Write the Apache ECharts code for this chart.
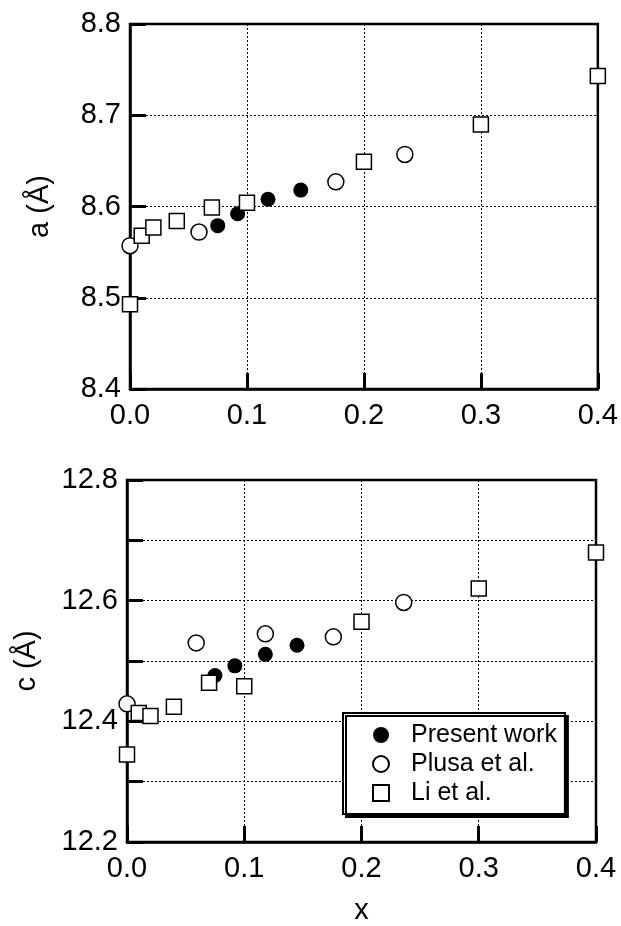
<!DOCTYPE html>
<html>
<head>
<meta charset="utf-8">
<script src="https://cdn.jsdelivr.net/npm/echarts@6/dist/echarts.min.js"></script>
<style>
  html, body { margin: 0; padding: 0; background: #fff; }
  #main { width: 621px; height: 926px; }
</style>
</head>
<body>
<div id="main"></div>
<script>
// lattice constant a (top panel)
const presentXa = [0.075, 0.092, 0.118, 0.146];
const presentA = [8.579, 8.592, 8.608, 8.618];
const plusaXa = [0.0, 0.059, 0.176, 0.235];
const plusaA = [8.557, 8.572, 8.627, 8.657];
const liXa = [0.0, 0.01, 0.02, 0.04, 0.07, 0.1, 0.2, 0.3, 0.4];
const liA = [8.493, 8.568, 8.577, 8.584, 8.599, 8.604, 8.649, 8.690, 8.743];

// lattice constant c (bottom panel)
const presentXc = [0.075, 0.092, 0.118, 0.145];
const presentC = [12.476, 12.492, 12.511, 12.526];
const plusaXc = [0.0, 0.059, 0.118, 0.176, 0.236];
const plusaC = [12.429, 12.530, 12.545, 12.540, 12.597];
const liXc = [0.0, 0.01, 0.02, 0.04, 0.07, 0.1, 0.2, 0.3, 0.4];
const liC = [12.345, 12.414, 12.409, 12.424, 12.464, 12.458, 12.565, 12.620, 12.680];

const names = ['Present work', 'Plusa et al.', 'Li et al.'];
const FONT = '"Liberation Sans", Helvetica, Arial, sans-serif';

function zip(xs, ys) {
  return xs.map((x, i) => [x, ys[i]]);
}

// marker looks per series
const markStyle = [
  { symbol: 'circle', symbolSize: 15, itemStyle: { color: '#000', opacity: 1 } },
  { symbol: 'circle', symbolSize: 16, itemStyle: { color: '#fff', borderColor: '#000', borderWidth: 1.5, opacity: 1 } },
  { symbol: 'rect', symbolSize: 15, itemStyle: { color: '#fff', borderColor: '#000', borderWidth: 1.5, opacity: 1 } },
];

const tickCfg = () => ({ show: true, inside: true, length: 16, lineStyle: { color: '#000', width: 3 } });
const lineCfg = () => ({ show: true, onZero: false, lineStyle: { color: '#000', width: 2.5 } });
const gridLineCfg = () => ({ show: true, lineStyle: { color: '#000', width: 1, type: [2, 2] } });

function xAxisFor(gridIndex, name) {
  return {
    type: 'value', gridIndex, min: 0, max: 0.4, interval: 0.1,
    axisLine: lineCfg(), axisTick: tickCfg(), splitLine: gridLineCfg(),
    axisLabel: { margin: 12, formatter: v => v.toFixed(1), color: '#000', fontSize: 29, fontFamily: FONT },
    name, nameLocation: 'middle', nameGap: 54,
    nameTextStyle: { color: '#000', fontSize: 29, fontFamily: FONT },
  };
}

function yAxisFor(gridIndex, min, max, name, nameGap, everyOther) {
  return {
    type: 'value', gridIndex, min, max, interval: 0.1,
    axisLine: lineCfg(), axisTick: tickCfg(), splitLine: gridLineCfg(),
    axisLabel: {
      margin: 9, color: '#000', fontSize: 29, fontFamily: FONT,
      formatter: v => {
        if (everyOther && Math.round(v * 10) % 2 !== 0) return '';
        return v.toFixed(1);
      },
    },
    name, nameLocation: 'middle', nameGap,
    nameTextStyle: { color: '#000', fontSize: 29, fontFamily: FONT },
  };
}

const series = [];
const topData = [zip(presentXa, presentA), zip(plusaXa, plusaA), zip(liXa, liA)];
const botData = [zip(presentXc, presentC), zip(plusaXc, plusaC), zip(liXc, liC)];
[0, 1, 2].forEach(i => {
  series.push(Object.assign({
    name: names[i], type: 'scatter', xAxisIndex: 0, yAxisIndex: 0,
    data: topData[i], clip: false, symbolKeepAspect: true,
  }, markStyle[i]));
  series.push(Object.assign({
    name: names[i], type: 'scatter', xAxisIndex: 1, yAxisIndex: 1,
    data: botData[i], clip: false, symbolKeepAspect: true,
  }, markStyle[i]));
});

const chart = echarts.init(document.getElementById('main'));
chart.setOption({
  backgroundColor: '#fff',
  animation: false,
  grid: [
    { left: 130, top: 24, width: 469, height: 365, show: true, borderColor: '#000', borderWidth: 2.5 },
    { left: 127, top: 480, width: 469, height: 367, show: true, borderColor: '#000', borderWidth: 2.5 },
  ],
  xAxis: [xAxisFor(0, ''), xAxisFor(1, 'x')],
  yAxis: [yAxisFor(0, 8.4, 8.8, 'a (Å)', 76, false), yAxisFor(1, 12.2, 12.8, 'c (Å)', 86, true)],
  legend: {
    data: names,
    orient: 'vertical',
    left: 343,
    top: 713,
    padding: [9, 8, 8, 29],
    itemWidth: 16,
    itemHeight: 16,
    itemGap: 3,
    backgroundColor: '#fff',
    borderColor: '#000',
    borderWidth: 2,
    shadowColor: '#000',
    shadowBlur: 0,
    shadowOffsetX: 3,
    shadowOffsetY: 3,
    textStyle: { color: '#000', fontSize: 25, fontFamily: FONT, lineHeight: 26, padding: [0, 0, 0, 17] },
  },
  series,
});
</script>
</body>
</html>
